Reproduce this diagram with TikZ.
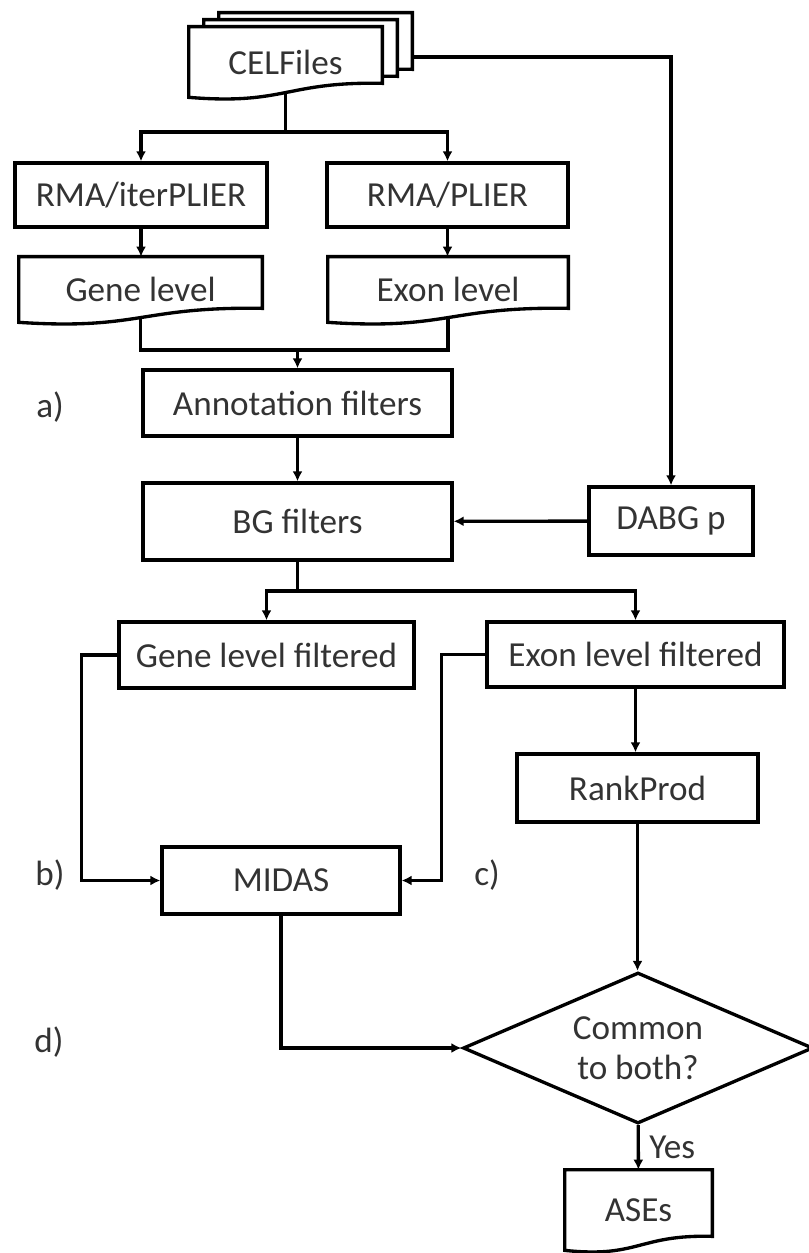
\documentclass[tikz,border=0pt]{standalone}
\usepackage{fontspec}
\setmainfont{Carlito}
\usetikzlibrary{arrows.meta,calc,shapes.geometric,backgrounds}

% outline of a document box, wavy bottom; also names the middle of the wave (name-b)
\newcommand{\docframe}[1]{%
  \begin{pgfonlayer}{background}
    \draw[line width=1.9pt, fill=white] (#1.north west) -- (#1.north east)
      -- ($(#1.south east)+(0,-14)$)
      .. controls ($(#1.south)+(0,-16)$) and ($(#1.south)+(0,8)$) .. coordinate[pos=0.5] (#1-b) (#1.south west)
      -- cycle;
  \end{pgfonlayer}}

\begin{document}
\begin{tikzpicture}[x=0.02cm, y=-0.02cm, font=\fontsize{20}{23}\selectfont,
    every node/.style={text=black!80},
    box/.style={draw=black, line width=1.9pt, minimum height=1.32cm, inner sep=0pt},
    doc/.style={minimum height=1.30cm, inner sep=0pt},
    line/.style={line width=1.9pt},
    arr/.style={line width=1.9pt, -{Latex[length=2mm,width=2mm]}}]
  \useasboundingbox (0,0) rectangle (808,1253);

  % input files
  \node[doc, minimum width=3.86cm, minimum height=1.40cm] (celc) at (315.5,48) {};
  \node[doc, minimum width=3.86cm, minimum height=1.40cm] (celb) at (300.5,55) {};
  \node[doc, minimum width=3.86cm, minimum height=1.40cm] (cel) at (285.5,62) {CELFiles};
  \docframe{celc}
  \docframe{celb}
  \docframe{cel}

  % summarisation
  \node[box, minimum width=5.04cm, minimum height=1.28cm] (iter) at (141,195) {RMA/iterPLIER};
  \node[box, minimum width=4.82cm, minimum height=1.28cm] (plier) at (447.5,195) {RMA/PLIER};
  \node[doc, minimum width=4.86cm] (gene) at (140.5,289.5) {Gene level};
  \node[doc, minimum width=4.80cm] (exon) at (448,289.5) {Exon level};
  \docframe{gene}
  \docframe{exon}

  % filtering
  \node[box, minimum width=6.18cm] (annot) at (297.5,403) {Annotation filters};
  \node[box, minimum width=6.18cm, minimum height=1.54cm] (bg) at (297.5,521.5) {BG filters};
  \node[box, minimum width=3.28cm, minimum height=1.36cm] (dabg) at (671,521) {DABG p};
  \node[box, minimum width=5.90cm] (genef) at (266.5,655) {Gene level filtered};
  \node[box, minimum width=5.94cm, minimum height=1.30cm] (exonf) at (635.5,654.5) {Exon level filtered};

  % tests
  \node[box, minimum width=4.82cm, minimum height=1.36cm] (rank) at (637.5,788) {RankProd};
  \node[box, minimum width=4.76cm, minimum height=1.34cm] (midas) at (281,880.5) {MIDAS};
  \node[diamond, draw=black, line width=1.9pt, aspect=2.32, minimum width=7cm, minimum height=3.02cm,
        inner sep=0pt, align=center] (diam) at (638,1048) {Common\\to both?};
  \node[doc, minimum width=2.94cm, minimum height=1.60cm] (ases) at (638.5,1210) {ASEs};
  \docframe{ases}

  \foreach \n/\px/\py in {a/50/407, b/50/875, c/487/875, d/49/1042}
    \node (lab\n) at (\px,\py) {\n)};

  % connectors
  \coordinate (s1) at (287,132);
  \coordinate (j1) at (297.5,350);
  \coordinate (s2) at (297.5,591);
  \draw[line] (cel-b) -- (cel-b |- s1);
  \draw[arr] (cel-b |- s1) -| (iter);
  \draw[arr] (cel-b |- s1) -| (plier);
  \draw[arr] (iter.south) -- (iter.south |- gene.north);
  \draw[arr] (plier.south) -- (plier.south |- exon.north);
  \draw[line] (gene-b) |- (j1) -| (exon-b);
  \draw[arr] (j1) -- (annot);
  \draw[arr] (annot) -- (bg);
  \draw[arr] ($(celc.east)+(0,9)$) -| (dabg);
  \draw[arr] (dabg) -- (bg);
  \draw[line] (bg) -- (s2);
  \draw[arr] (s2) -| (genef);
  \draw[arr] (s2) -| (exonf);
  \draw[arr] (genef.west) -- ++(-36,0) |- (midas);
  \draw[arr] (exonf.west) -- ++(-44,0) |- (midas);
  \draw[arr] (exonf.south) -- (exonf.south |- rank.north);
  \draw[arr] (rank.south) -- (rank.south |- diam.north);
  \draw[arr] (midas) |- (diam);
  \draw[arr] (diam) -- node[right, xshift=2pt] (yes) {Yes} (ases);
\end{tikzpicture}
\end{document}
